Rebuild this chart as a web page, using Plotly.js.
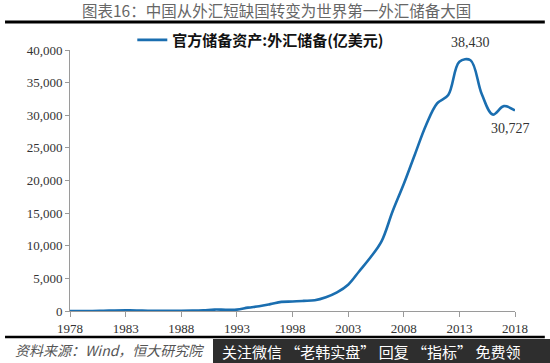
<!DOCTYPE html>
<html>
<head>
<meta charset="utf-8">
<script src="https://cdn.plot.ly/plotly-3.0.1.min.js"></script>
<style>
html,body{margin:0;padding:0;background:#fff;}
#chart{width:550px;height:363px;}
</style>
</head>
<body>
<div id="chart"></div>
<script>
// Data: China official reserve assets - foreign exchange reserves (100 million USD)
const years = [1978,1979,1980,1981,1982,1983,1984,1985,1986,1987,1988,1989,1990,
  1991,1992,1993,1994,1995,1996,1997,1998,1999,2000,2001,2002,2003,2004,2005,
  2006,2007,2008,2009,2010,2011,2012,2013,2014,2015,2016,2017,2018];
const fxReserves = [2,8,-13,27,70,89,82,26,21,29,34,56,111,
  217,194,212,516,736,1050,1399,1450,1547,1656,2122,2864,4033,6099,8189,
  10663,15282,19460,23992,28473,31811,33116,38213,38430,33304,30105,31399,30727];
const seriesName = '官方储备资产:外汇储备(亿美元)';
const xTicks = [1978,1983,1988,1993,1998,2003,2008,2013,2018];
const yTicks = [0,5000,10000,15000,20000,25000,30000,35000,40000];
const chartTitle = '图表16：中国从外汇短缺国转变为世界第一外汇储备大国';
const sourceText = '资料来源：Wind，恒大研究院';
const watermarkText = '关注微信 “老韩实盘” 回复 “指标” 免费领';
const peakYear = 2014, lastYear = 2018;

const peakVal = fxReserves[years.indexOf(peakYear)];
const lastVal = fxReserves[years.indexOf(lastYear)];
const fmt = v => v.toLocaleString('en-US');

const trace = {
  x: years, y: fxReserves, type: 'scatter', mode: 'lines', name: seriesName,
  line: {color: '#1a6eb0', width: 2.6, shape: 'spline', smoothing: 1},
  hoverinfo: 'skip'
};

const serif = 'Liberation Serif, Times New Roman, serif';
const cjk = 'Noto Sans CJK SC, sans-serif';

const layout = {
  width: 550, height: 363,
  margin: {l: 70, r: 35, t: 50, b: 52},
  paper_bgcolor: '#fff', plot_bgcolor: '#fff',
  showlegend: true,
  legend: {x: 0.14, xanchor: 'left', y: 1.038, yanchor: 'middle', orientation: 'h',
    bgcolor: 'rgba(0,0,0,0)', borderwidth: 0,
    font: {family: cjk, size: 15, color: '#111', weight: 'bold'}},
  xaxis: {range: [1978, 2018], tickvals: xTicks, ticktext: xTicks.map(String),
    showline: true, linecolor: '#9a9a9a', linewidth: 1, ticks: 'outside', ticklen: 5,
    tickcolor: '#9a9a9a', showgrid: false, zeroline: false,
    tickfont: {family: serif, size: 13, color: '#333'}},
  yaxis: {range: [0, 40000], tickvals: yTicks, ticktext: yTicks.map(fmt),
    showline: true, linecolor: '#9a9a9a', linewidth: 1, ticks: 'outside', ticklen: 4,
    tickcolor: '#9a9a9a', showgrid: false, zeroline: false,
    tickfont: {family: serif, size: 13, color: '#333'}},
  shapes: [
    {type: 'line', xref: 'paper', yref: 'paper', x0: -0.146, x1: 1.067, y0: 1.107, y1: 1.107,
      line: {color: '#000', width: 3}},
    {type: 'line', xref: 'paper', yref: 'paper', x0: -0.146, x1: 1.067, y0: -0.1, y1: -0.1,
      line: {color: '#000', width: 2.5}},
    {type: 'rect', xref: 'paper', yref: 'paper', x0: (213-70)/445, x1: (552-70)/445,
      y0: (311-339)/261, y1: (311-365)/261, fillcolor: '#2e2e2e', line: {width: 0}, layer: 'above'}
  ],
  annotations: [
    {xref: 'paper', yref: 'paper', x: (276-70)/445, y: (311-10)/261, xanchor: 'center', yanchor: 'middle',
      text: chartTitle, showarrow: false, font: {family: cjk, size: 15.5, color: '#666'}},
    {x: peakYear, y: peakVal, xanchor: 'center', yanchor: 'bottom', yshift: 8, text: fmt(peakVal),
      showarrow: false, font: {family: serif, size: 14, color: '#333'}},
    {x: lastYear, y: lastVal, xanchor: 'center', yanchor: 'top', yshift: -8, xshift: -5, text: fmt(lastVal),
      showarrow: false, font: {family: serif, size: 14, color: '#333'}},
    {xref: 'paper', yref: 'paper', x: (13-70)/445, y: (311-350)/261, xanchor: 'left', yanchor: 'middle',
      text: sourceText, showarrow: false, font: {family: cjk, size: 14, color: '#555', style: 'italic'}},
    {xref: 'paper', yref: 'paper', x: (220-70)/445, y: (311-351)/261, xanchor: 'left', yanchor: 'middle',
      text: watermarkText, showarrow: false, font: {family: cjk, size: 15, color: '#fff'}}
  ]
};

Plotly.newPlot('chart', [trace], layout, {staticPlot: true, displayModeBar: false});
</script>
</body>
</html>
